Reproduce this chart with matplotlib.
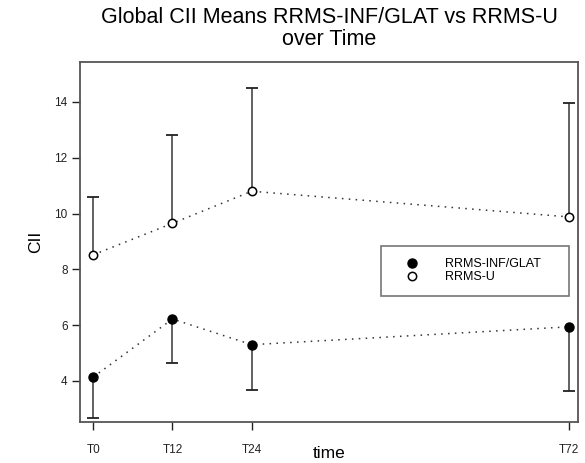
import numpy as np
import matplotlib
matplotlib.use("Agg")
import matplotlib.pyplot as plt

plt.rcParams['font.family'] = ['Liberation Sans', 'DejaVu Sans']

# data
time_vals = [0, 12, 24, 72]
time_labels = ["T0", "T12", "T24", "T72"]
inf_glat_mean = [4.14, 6.22, 5.30, 5.94]
inf_glat_lower = [2.67, 4.65, 3.68, 3.64]   # only lower bars drawn
rrms_u_mean = [8.52, 9.65, 10.80, 9.88]
rrms_u_upper = [10.60, 12.80, 14.50, 13.95]  # only upper bars drawn

fig = plt.figure(figsize=(5.85, 4.63), dpi=100)
ax = fig.add_axes([0.1368, 0.0886, 0.8512, 0.7774])

# error bars (one sided)
ax.vlines(time_vals, inf_glat_lower, inf_glat_mean, color="#555555", lw=1.3, zorder=2)
ax.vlines(time_vals, rrms_u_mean, rrms_u_upper, color="#555555", lw=1.3, zorder=2)
ax.plot(time_vals, inf_glat_lower, ls="none", marker="_", ms=8.5, mew=1.3, color="#222222", zorder=2)
ax.plot(time_vals, rrms_u_upper, ls="none", marker="_", ms=8.5, mew=1.3, color="#222222", zorder=2)

# mean lines
ax.plot(time_vals, inf_glat_mean, ls=(0, (1, 3.5)), lw=1.1, color="#333333", zorder=3)
ax.plot(time_vals, rrms_u_mean, ls=(0, (1, 3.5)), lw=1.1, color="#333333", zorder=3)
h1, = ax.plot(time_vals, inf_glat_mean, ls="none", marker="o", ms=6.5, mfc="black", mec="black", zorder=4, label="RRMS-INF/GLAT")
h2, = ax.plot(time_vals, rrms_u_mean, ls="none", marker="o", ms=6, mfc="white", mec="black", mew=1.1, zorder=4, label="RRMS-U")

ax.set_xlim(-2.0, 73.4)
ax.set_ylim(2.53, 15.43)
ax.set_xticks(time_vals)
ax.set_xticklabels(time_labels)
ax.set_yticks([4, 6, 8, 10, 12, 14])
ax.tick_params(axis="both", direction="out", length=6, width=1, colors="#222222", labelsize=8.5, pad=3)
ax.tick_params(axis="x", pad=10)
for s in ax.spines.values():
    s.set_color("#555555")
    s.set_linewidth(1.3)

ax.set_xlabel("time", fontsize=12.5, labelpad=-7)
ax.set_ylabel("CII", fontsize=12.5, labelpad=8)
ax.set_title("Global CII Means RRMS-INF/GLAT vs RRMS-U\nover Time", fontsize=15.5, pad=12, linespacing=1.1)

leg = ax.legend(handles=[h1, h2], bbox_to_anchor=(0.604, 0.344, 0.378, 0.153), loc="center",
                mode="expand", fontsize=9, frameon=True, fancybox=False, borderpad=1.0,
                handletextpad=1.1, labelspacing=0.1, handlelength=3.0, borderaxespad=0)
leg.get_frame().set_edgecolor("#555555")
leg.get_frame().set_linewidth(1.2)

fig.savefig("out.png", dpi=100)
